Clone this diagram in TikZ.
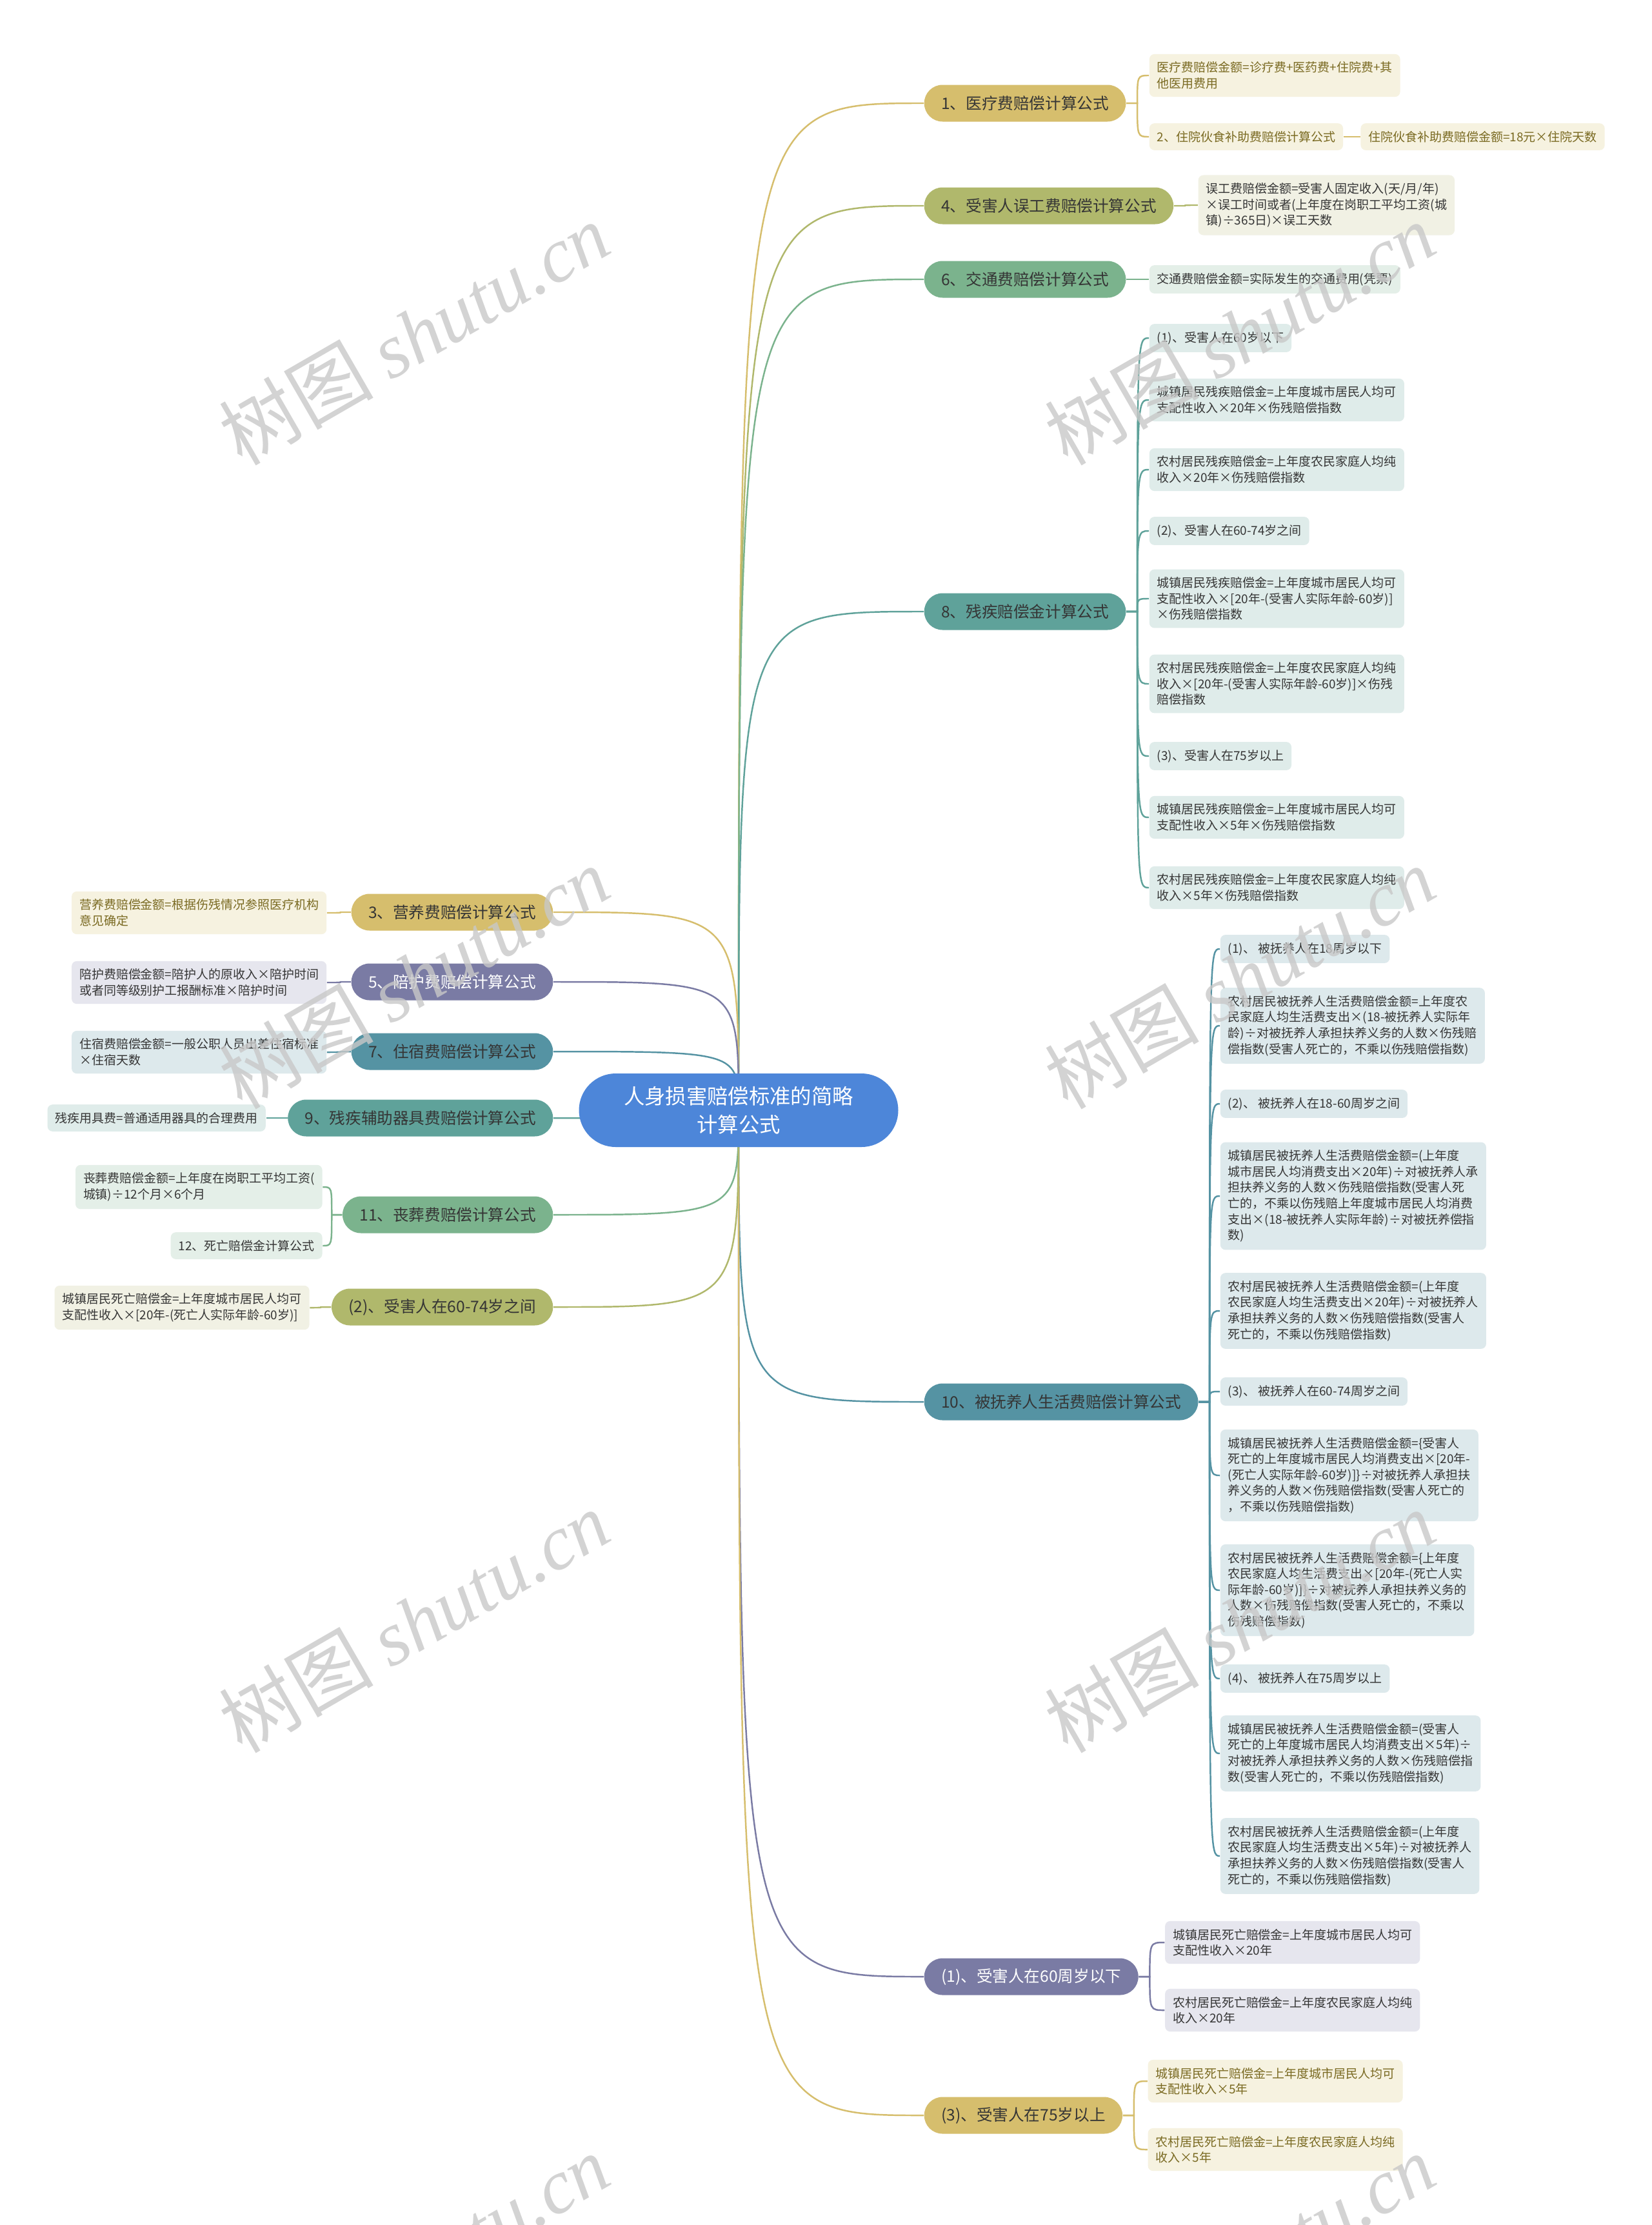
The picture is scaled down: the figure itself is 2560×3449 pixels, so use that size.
\documentclass[tikz,border=0pt]{standalone}
\usepackage{fontspec}
\setmainfont{Noto Sans CJK SC}
\newfontfamily\wmfont{Liberation Serif}
\usetikzlibrary{calc,backgrounds}

\definecolor{cRoot}{HTML}{4D86D9}
\definecolor{cGold}{HTML}{D6BE6D}
\definecolor{cGoldL}{HTML}{F6F2E0}
\definecolor{cGoldT}{HTML}{7A6A22}
\definecolor{cOlive}{HTML}{B0B86C}
\definecolor{cOliveL}{HTML}{F1F1E4}
\definecolor{cGreen}{HTML}{7BB38D}
\definecolor{cGreenL}{HTML}{E4EFE8}
\definecolor{cTeal}{HTML}{5FA29A}
\definecolor{cTealL}{HTML}{DFECEA}
\definecolor{cSteel}{HTML}{5593A3}
\definecolor{cSteelL}{HTML}{DDE9EC}
\definecolor{cPurple}{HTML}{7A7BA4}
\definecolor{cPurpleL}{HTML}{E6E6EE}
\definecolor{cText}{HTML}{353535}
\definecolor{cMark}{HTML}{C8C8C8}

\tikzset{
  root/.style={fill=cRoot, text=white, rounded corners=5.7mm, minimum width=49.5mm,
    minimum height=11.4mm, align=center, font=\fontsize{9.2}{12.5}\selectfont},
  branch/.style={rounded corners=2.85mm, minimum height=5.7mm, inner xsep=2.65mm,
    text=cText, font=\fontsize{7}{9}\selectfont},
  leaf/.style={rounded corners=0.8mm, inner xsep=1.2mm, inner ysep=1.2mm, align=left,
    text=cText, font=\fontsize{5.4}{7}\selectfont},
  gbr/.style={branch, fill=cGold},
  obr/.style={branch, fill=cOlive},
  ebr/.style={branch, fill=cGreen},
  tbr/.style={branch, fill=cTeal},
  sbr/.style={branch, fill=cSteel},
  pbr/.style={branch, fill=cPurple, text=white},
  gleaf/.style={leaf, fill=cGoldL, text=cGoldT},
  oleaf/.style={leaf, fill=cOliveL},
  eleaf/.style={leaf, fill=cGreenL},
  tleaf/.style={leaf, fill=cTealL},
  sleaf/.style={leaf, fill=cSteelL},
  pleaf/.style={leaf, fill=cPurpleL},
  gline/.style={draw=cGold, line width=0.7pt},
  oline/.style={draw=cOlive, line width=0.7pt},
  eline/.style={draw=cGreen, line width=0.7pt},
  tline/.style={draw=cTeal, line width=0.7pt},
  sline/.style={draw=cSteel, line width=0.7pt},
  pline/.style={draw=cPurple, line width=0.7pt},
  wmark/.style={rotate=30, text=cMark, opacity=0.8, font=\fontsize{34}{40}\selectfont}
}

\begin{document}
\begin{tikzpicture}[x=0.1mm,y=-0.1mm]
\useasboundingbox (0,0) rectangle (2560,3449);
\clip (0,0) rectangle (2560,3449);

% centre
\node[root] (root) at (1145,1721) {人身损害赔偿标准的简略\\计算公式};

% right side
\node[gbr,anchor=west] (b1) at (1432,160) {1、医疗费赔偿计算公式};
\node[obr,anchor=west] (b4) at (1432,319) {4、受害人误工费赔偿计算公式};
\node[ebr,anchor=west] (b6) at (1432,433) {6、交通费赔偿计算公式};
\node[tbr,anchor=west] (b8) at (1432,948) {8、残疾赔偿金计算公式};
\node[sbr,anchor=west] (b10) at (1432,2173) {10、被抚养人生活费赔偿计算公式};
\node[pbr,anchor=west] (bA) at (1432,3064) {(1)、受害人在60周岁以下};
\node[gbr,anchor=west] (bC) at (1432,3279) {(3)、受害人在75岁以上};

% left side
\node[gbr,anchor=east] (b3) at (858,1414) {3、营养费赔偿计算公式};
\node[pbr,anchor=east] (b5) at (858,1522) {5、陪护费赔偿计算公式};
\node[sbr,anchor=east] (b7) at (858,1630) {7、住宿费赔偿计算公式};
\node[tbr,anchor=east] (b9) at (858,1733) {9、残疾辅助器具费赔偿计算公式};
\node[ebr,anchor=east] (b11) at (858,1883) {11、丧葬费赔偿计算公式};
\node[obr,anchor=east] (bB) at (858,2026) {(2)、受害人在60-74岁之间};

% leaves, right
\node[gleaf,anchor=west,xshift=3.5mm] (l1a) at (b1.east |- 0,117) {医疗费赔偿金额=诊疗费+医药费+住院费+其\\他医用费用};
\node[gleaf,anchor=west,xshift=3.5mm] (l1b) at (b1.east |- 0,212) {2、住院伙食补助费赔偿计算公式};
\node[gleaf,anchor=west,xshift=2.6mm] (l1c) at (l1b.east) {住院伙食补助费赔偿金额=18元×住院天数};

\node[oleaf,anchor=west,xshift=3.7mm] (l4a) at (b4.east |- 0,318) {误工费赔偿金额=受害人固定收入(天/月/年)\\×误工时间或者(上年度在岗职工平均工资(城\\镇)÷365日)×误工天数};

\node[eleaf,anchor=west,xshift=3.5mm] (l6a) at (b6.east |- 0,433) {交通费赔偿金额=实际发生的交通费用(凭票)};

\node[tleaf,anchor=west,xshift=3.5mm] (l8a) at (b8.east |- 0,524) {(1)、受害人在60岁以下};
\node[tleaf,anchor=west,xshift=3.5mm] (l8b) at (b8.east |- 0,620) {城镇居民残疾赔偿金=上年度城市居民人均可\\支配性收入×20年×伤残赔偿指数};
\node[tleaf,anchor=west,xshift=3.5mm] (l8c) at (b8.east |- 0,728) {农村居民残疾赔偿金=上年度农民家庭人均纯\\收入×20年×伤残赔偿指数};
\node[tleaf,anchor=west,xshift=3.5mm] (l8d) at (b8.east |- 0,823) {(2)、受害人在60-74岁之间};
\node[tleaf,anchor=west,xshift=3.5mm] (l8e) at (b8.east |- 0,928) {城镇居民残疾赔偿金=上年度城市居民人均可\\支配性收入×[20年-(受害人实际年龄-60岁)]\\×伤残赔偿指数};
\node[tleaf,anchor=west,xshift=3.5mm] (l8f) at (b8.east |- 0,1060) {农村居民残疾赔偿金=上年度农民家庭人均纯\\收入×[20年-(受害人实际年龄-60岁)]×伤残\\赔偿指数};
\node[tleaf,anchor=west,xshift=3.5mm] (l8g) at (b8.east |- 0,1172) {(3)、受害人在75岁以上};
\node[tleaf,anchor=west,xshift=3.5mm] (l8h) at (b8.east |- 0,1267) {城镇居民残疾赔偿金=上年度城市居民人均可\\支配性收入×5年×伤残赔偿指数};
\node[tleaf,anchor=west,xshift=3.5mm] (l8i) at (b8.east |- 0,1376) {农村居民残疾赔偿金=上年度农民家庭人均纯\\收入×5年×伤残赔偿指数};

\node[sleaf,anchor=west,xshift=3.3mm] (l10a) at (b10.east |- 0,1471) {(1)、 被抚养人在18周岁以下};
\node[sleaf,anchor=west,xshift=3.3mm] (l10b) at (b10.east |- 0,1590) {农村居民被抚养人生活费赔偿金额=上年度农\\民家庭人均生活费支出×(18-被抚养人实际年\\龄)÷对被抚养人承担扶养义务的人数×伤残赔\\偿指数(受害人死亡的，不乘以伤残赔偿指数)};
\node[sleaf,anchor=west,xshift=3.3mm] (l10c) at (b10.east |- 0,1711) {(2)、 被抚养人在18-60周岁之间};
\node[sleaf,anchor=west,xshift=3.3mm] (l10d) at (b10.east |- 0,1854) {城镇居民被抚养人生活费赔偿金额=(上年度\\城市居民人均消费支出×20年)÷对被抚养人承\\担扶养义务的人数×伤残赔偿指数(受害人死\\亡的，不乘以伤残赔上年度城市居民人均消费\\支出×(18-被抚养人实际年龄)÷对被抚养偿指\\数)};
\node[sleaf,anchor=west,xshift=3.3mm] (l10e) at (b10.east |- 0,2032) {农村居民被抚养人生活费赔偿金额=(上年度\\农民家庭人均生活费支出×20年)÷对被抚养人\\承担扶养义务的人数×伤残赔偿指数(受害人\\死亡的，不乘以伤残赔偿指数)};
\node[sleaf,anchor=west,xshift=3.3mm] (l10f) at (b10.east |- 0,2157) {(3)、 被抚养人在60-74周岁之间};
\node[sleaf,anchor=west,xshift=3.3mm] (l10g) at (b10.east |- 0,2287) {城镇居民被抚养人生活费赔偿金额=\{受害人\\死亡的上年度城市居民人均消费支出×[20年-\\(死亡人实际年龄-60岁)]\}÷对被抚养人承担扶\\养义务的人数×伤残赔偿指数(受害人死亡的\\，不乘以伤残赔偿指数)};
\node[sleaf,anchor=west,xshift=3.3mm] (l10h) at (b10.east |- 0,2465) {农村居民被抚养人生活费赔偿金额=\{上年度\\农民家庭人均生活费支出×[20年-(死亡人实\\际年龄-60岁)]\}÷对被抚养人承担扶养义务的\\人数×伤残赔偿指数(受害人死亡的，不乘以\\伤残赔偿指数)};
\node[sleaf,anchor=west,xshift=3.3mm] (l10i) at (b10.east |- 0,2602) {(4)、 被抚养人在75周岁以上};
\node[sleaf,anchor=west,xshift=3.3mm] (l10j) at (b10.east |- 0,2718) {城镇居民被抚养人生活费赔偿金额=(受害人\\死亡的上年度城市居民人均消费支出×5年)÷\\对被抚养人承担扶养义务的人数×伤残赔偿指\\数(受害人死亡的，不乘以伤残赔偿指数)};
\node[sleaf,anchor=west,xshift=3.3mm] (l10k) at (b10.east |- 0,2877) {农村居民被抚养人生活费赔偿金额=(上年度\\农民家庭人均生活费支出×5年)÷对被抚养人\\承担扶养义务的人数×伤残赔偿指数(受害人\\死亡的，不乘以伤残赔偿指数)};

\node[pleaf,anchor=west,xshift=4mm] (lAa) at (bA.east |- 0,3011) {城镇居民死亡赔偿金=上年度城市居民人均可\\支配性收入×20年};
\node[pleaf,anchor=west,xshift=4mm] (lAb) at (bA.east |- 0,3116) {农村居民死亡赔偿金=上年度农民家庭人均纯\\收入×20年};

\node[gleaf,anchor=west,xshift=3.8mm] (lCa) at (bC.east |- 0,3226) {城镇居民死亡赔偿金=上年度城市居民人均可\\支配性收入×5年};
\node[gleaf,anchor=west,xshift=3.8mm] (lCb) at (bC.east |- 0,3332) {农村居民死亡赔偿金=上年度农民家庭人均纯\\收入×5年};

% leaves, left
\node[gleaf,anchor=east,xshift=-3.7mm] (l3a) at (b3.west |- 0,1415) {营养费赔偿金额=根据伤残情况参照医疗机构\\意见确定};
\node[pleaf,anchor=east,xshift=-3.7mm] (l5a) at (b5.west |- 0,1523) {陪护费赔偿金额=陪护人的原收入×陪护时间\\或者同等级别护工报酬标准×陪护时间};
\node[sleaf,anchor=east,xshift=-3.7mm] (l7a) at (b7.west |- 0,1631) {住宿费赔偿金额=一般公职人员出差住宿标准\\×住宿天数};
\node[tleaf,anchor=east,xshift=-3.3mm] (l9a) at (b9.west |- 0,1733) {残疾用具费=普通适用器具的合理费用};
\node[eleaf,anchor=east,xshift=-3mm] (l11a) at (b11.west |- 0,1840) {丧葬费赔偿金额=上年度在岗职工平均工资(\\城镇)÷12个月×6个月};
\node[eleaf,anchor=east,xshift=-3mm] (l11b) at (b11.west |- 0,1931) {12、死亡赔偿金计算公式};
\node[oleaf,anchor=east,xshift=-3.3mm] (lBa) at (bB.west |- 0,2027) {城镇居民死亡赔偿金=上年度城市居民人均可\\支配性收入×[20年-(死亡人实际年龄-60岁)]};

% connectors
\begin{pgfonlayer}{background}
\fill[white] (0,0) rectangle (2560,3449);
\foreach \b/\s in {b1/gline,b4/oline,b6/eline,b8/tline,b10/sline,bA/pline,bC/gline}
  \draw[\s] (root.center) .. controls (root.center |- \b.west) .. (\b.west);
\foreach \b/\s in {b3/gline,b5/pline,b7/sline,b9/tline,b11/eline,bB/oline}
  \draw[\s] (root.center) .. controls (root.center |- \b.east) .. (\b.east);
\foreach \p/\c/\s in {b1/l1a/gline,b1/l1b/gline,b4/l4a/oline,b6/l6a/eline,
    b8/l8a/tline,b8/l8b/tline,b8/l8c/tline,b8/l8d/tline,b8/l8e/tline,b8/l8f/tline,
    b8/l8g/tline,b8/l8h/tline,b8/l8i/tline,
    b10/l10a/sline,b10/l10b/sline,b10/l10c/sline,b10/l10d/sline,b10/l10e/sline,
    b10/l10f/sline,b10/l10g/sline,b10/l10h/sline,b10/l10i/sline,b10/l10j/sline,
    b10/l10k/sline,bA/lAa/pline,bA/lAb/pline,bC/lCa/gline,bC/lCb/gline}
  \draw[\s] (\p.east) -- ++(17,0) .. controls ($(\p.east |- \c.west)+(17,0)$) .. (\c.west);
\foreach \p/\c/\s in {b3/l3a/gline,b5/l5a/pline,b7/l7a/sline,b9/l9a/tline,
    b11/l11a/eline,b11/l11b/eline,bB/lBa/oline}
  \draw[\s] (\p.west) -- ++(-16,0) .. controls ($(\p.west |- \c.east)+(-16,0)$) .. (\c.east);
\draw[gline] (l1b.east) -- (l1c.west);
\end{pgfonlayer}

% watermark
\foreach \x in {642,1922}
  \foreach \y in {517,1515,2513,3511}
    \node[wmark] (wm-\x-\y) at (\x,\y) {树图 {\wmfont\itshape shutu.cn}};
\end{tikzpicture}
\end{document}
